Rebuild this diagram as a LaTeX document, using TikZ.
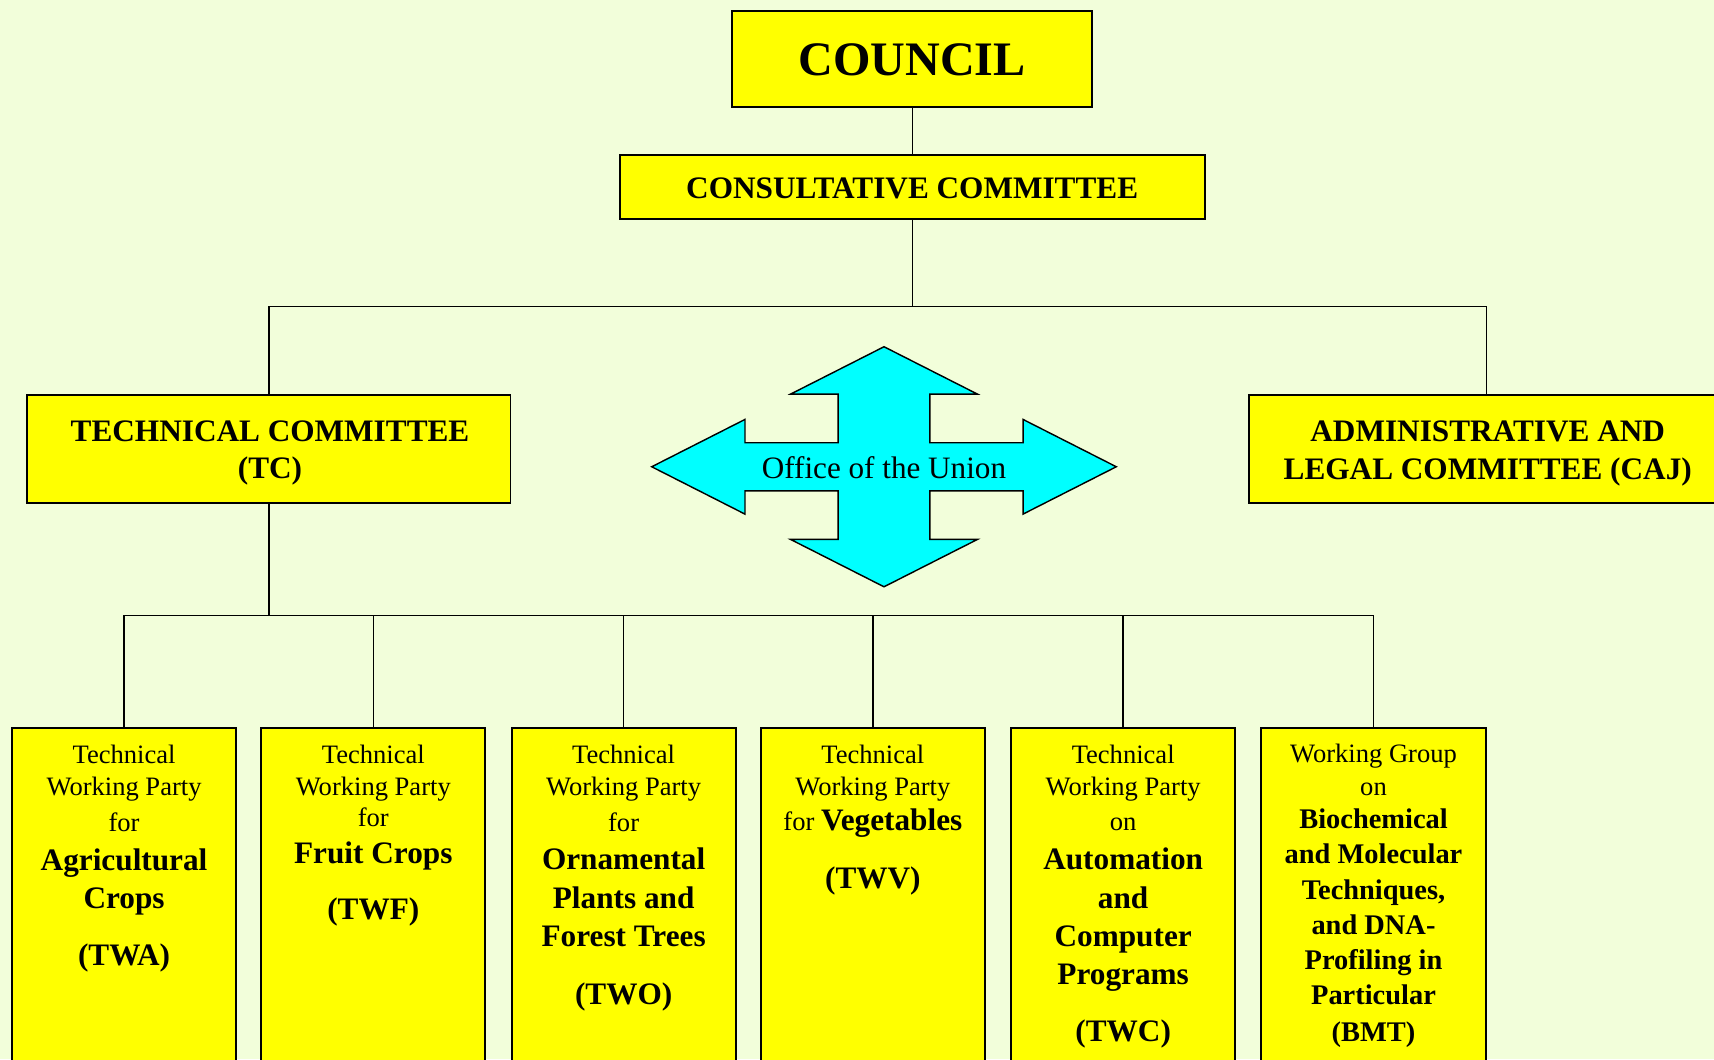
\documentclass[tikz,border=0pt]{standalone}
\usepackage{fontspec}
\setmainfont{Liberation Serif}
\definecolor{bgc}{RGB}{242,254,218}
\definecolor{boxy}{RGB}{255,255,0}
\definecolor{cyanfill}{RGB}{0,255,255}
\tikzset{
  box/.style={draw=black, line width=1.8pt, fill=boxy, inner sep=0pt},
  conn/.style={draw=black, line width=1.3pt},
  connthick/.style={draw=black, line width=2.2pt},
  sm/.style={anchor=base, inner sep=0pt, font=\fontsize{24.3}{29}\selectfont},
  bd/.style={anchor=base, inner sep=0pt, font=\fontsize{28.6}{34}\selectfont\bfseries},
  bds/.style={anchor=base, inner sep=0pt, font=\fontsize{26}{32}\selectfont\bfseries},
  hd/.style={anchor=base, inner sep=0pt, font=\fontsize{28.6}{34}\selectfont\bfseries},
  quadarrow/.style={draw=black, line width=1.3pt, fill=cyanfill, line join=miter},
}
\begin{document}
\begin{tikzpicture}[x=1pt, y=-1pt]
\useasboundingbox (0,0) rectangle (1568,969);
\clip (0,0) rectangle (1568,969);
\fill[bgc] (0,0) rectangle (1568,969);

% top level boxes
\node[box, minimum width=329pt, minimum height=87.6pt] (council) at (834.5,53.8) {};
\node[anchor=base, inner sep=0pt, font=\fontsize{44}{50}\selectfont\bfseries] (councilt) at (834.5,69.5) {COUNCIL};

\node[box, minimum width=535pt, minimum height=58.5pt] (consult) at (834.5,171) {};
\node[hd] (consultt) at (834.5,182) {CONSULTATIVE COMMITTEE};

\node[box, minimum width=442pt, minimum height=98.5pt] (tc) at (246,410.6) {};
\node[hd] (tc1) at (247,404) {TECHNICAL COMMITTEE};
\node[hd] (tc2) at (247,437.6) {(TC)};

\node[box, minimum width=434pt, minimum height=98.5pt] (caj) at (1360,410.6) {};
\node[hd] (caj1) at (1361,404) {ADMINISTRATIVE AND};
\node[hd] (caj2) at (1361,438.5) {LEGAL COMMITTEE (CAJ)};

% office of the union
\draw[quadarrow, shift={(808.7,427)}]
  (0,-109.8) -- (85.4,-66.5) -- (41.9,-66.5) -- (41.9,-22) -- (127.2,-22) -- (127.2,-43.3)
  -- (212.5,0) -- (127.2,43.3) -- (127.2,22) -- (41.9,22) -- (41.9,66.5) -- (85.4,66.5)
  -- (0,109.8) -- (-85.4,66.5) -- (-41.9,66.5) -- (-41.9,22) -- (-127.2,22) -- (-127.2,43.3)
  -- (-212.5,0) -- (-127.2,-43.3) -- (-127.2,-22) -- (-41.9,-22) -- (-41.9,-66.5) -- (-85.4,-66.5) -- cycle;
\node[anchor=base, inner sep=0pt, font=\fontsize{28.5}{34}\selectfont] (office) at (808.7,437.6) {Office of the Union};

% bottom boxes
\foreach \n/\x in {b1/113.5, b2/341.5, b3/570.5, b4/798.5, b5/1027.5, b6/1256.5}
  \node[box, anchor=north, minimum width=205pt, minimum height=340pt] (\n) at (\x,665) {};

% connectors
\coordinate (busA) at (834.5,280.5);
\coordinate (busB) at (246,563);
\draw[conn] (council.south) -- (consult.north);
\draw[conn] (consult.south) -- (busA);
\draw[conn] (tc.north) |- (busA) -| (caj.north);
\draw[connthick] (tc.south) -- (busB);
\draw[conn] (b1.north) |- (busB) -| (b6.north);
\foreach \n in {b2,b3,b4,b5}
  \draw[conn] (\n.north) -- (\n.north |- busB);

% box 1
\node[sm] (t1a) at (113.5,698.3) {Technical};
\node[sm] (t1b) at (113.5,727.3) {Working Party};
\node[sm] (t1c) at (113.5,760.8) {for};
\node[bd] (t1d) at (113.5,795.9) {Agricultural};
\node[bd] (t1e) at (113.5,830.9) {Crops};
\node[bd] (t1f) at (113.5,882.8) {(TWA)};

% box 2
\node[sm] (t2a) at (341.5,698.3) {Technical};
\node[sm] (t2b) at (341.5,727.3) {Working Party};
\node[sm] (t2c) at (341.5,756.2) {for};
\node[bd] (t2d) at (341.5,789.8) {Fruit Crops};
\node[bd] (t2e) at (341.5,841.6) {(TWF)};

% box 3
\node[sm] (t3a) at (570.5,698.3) {Technical};
\node[sm] (t3b) at (570.5,727.3) {Working Party};
\node[sm] (t3c) at (570.5,760.8) {for};
\node[bd] (t3d) at (570.5,795.3) {Ornamental};
\node[bd] (t3e) at (570.5,830.9) {Plants and};
\node[bd] (t3f) at (570.5,866) {Forest Trees};
\node[bd] (t3g) at (570.5,918.5) {(TWO)};

% box 4
\node[sm] (t4a) at (798.5,698.3) {Technical};
\node[sm] (t4b) at (798.5,727.3) {Working Party};
\node[sm] (t4c) at (798.5,760.2) {for {\fontsize{28.6}{34}\selectfont\bfseries Vegetables}};
\node[bd] (t4d) at (798.5,812.7) {(TWV)};

% box 5
\node[sm] (t5a) at (1027.5,698.3) {Technical};
\node[sm] (t5b) at (1027.5,727.3) {Working Party};
\node[sm] (t5c) at (1027.5,760.2) {on};
\node[bd] (t5d) at (1027.5,795.3) {Automation};
\node[bd] (t5e) at (1027.5,830.9) {and};
\node[bd] (t5f) at (1027.5,866) {Computer};
\node[bd] (t5g) at (1027.5,901) {Programs};
\node[bd] (t5h) at (1027.5,952.8) {(TWC)};

% box 6
\node[sm] (t6a) at (1256.5,697.7) {Working Group};
\node[sm] (t6b) at (1256.5,727.3) {on};
\node[bds] (t6c) at (1256.5,757.8) {Biochemical};
\node[bds] (t6d) at (1256.5,789.8) {and Molecular};
\node[bds] (t6e) at (1256.5,822.7) {Techniques,};
\node[bds] (t6f) at (1256.5,854.7) {and DNA-};
\node[bds] (t6g) at (1256.5,886.7) {Profiling in};
\node[bds] (t6h) at (1256.5,918.7) {Particular};
\node[bds] (t6i) at (1256.5,952.8) {(BMT)};
\end{tikzpicture}
\end{document}
